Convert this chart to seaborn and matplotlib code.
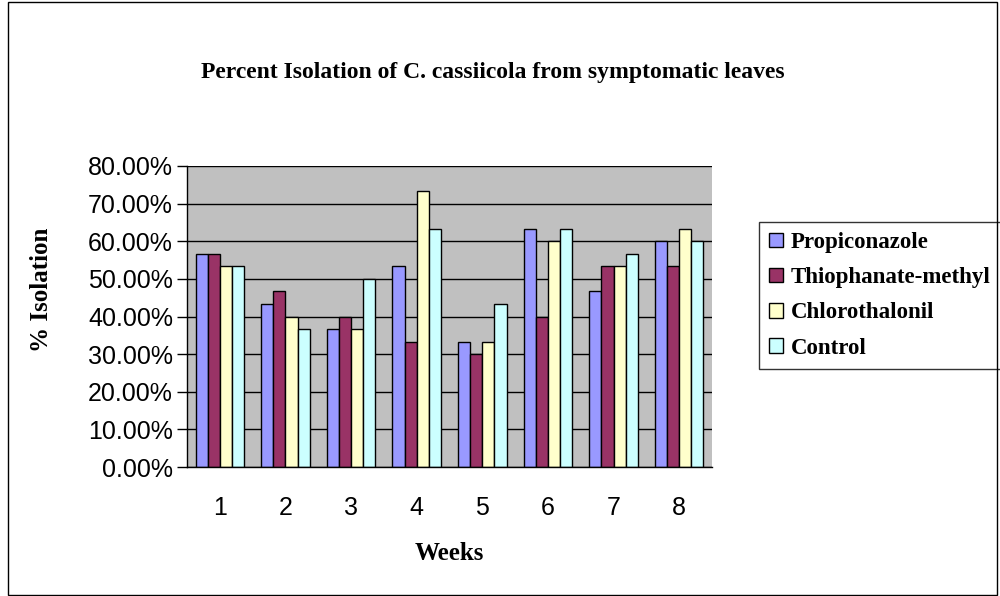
import numpy as np
import pandas as pd
import seaborn as sns
import matplotlib
import matplotlib.pyplot as plt
from matplotlib.patches import Rectangle

matplotlib.use('Agg')

weeks = ["1", "2", "3", "4", "5", "6", "7", "8"]
treatments = ["Propiconazole", "Thiophanate-methyl", "Chlorothalonil", "Control"]
propiconazole = [56.67, 43.33, 36.67, 53.33, 33.33, 63.33, 46.67, 60.00]
thiophanate = [56.67, 46.67, 40.00, 33.33, 30.00, 40.00, 53.33, 53.33]
chlorothalonil = [53.33, 40.00, 36.67, 73.33, 33.33, 60.00, 53.33, 63.33]
control = [53.33, 36.67, 50.00, 63.33, 43.33, 63.33, 56.67, 60.00]
colors = ["#9999FF", "#993366", "#FFFFCC", "#CCFFFF"]

df = pd.DataFrame({"week": weeks * 4,
                   "treatment": np.repeat(treatments, len(weeks)),
                   "isolation": propiconazole + thiophanate + chlorothalonil + control})

sns.set_style("white")
plt.rcParams.update({"text.color": "black", "axes.labelcolor": "black",
                     "xtick.color": "black", "ytick.color": "black"})
serif = ["Liberation Serif", "DejaVu Serif"]
sans = ["Liberation Sans", "DejaVu Sans"]

fig = plt.figure(figsize=(10, 5.96), dpi=100)
ax = fig.add_axes([0.187, 0.2164, 0.525, 0.5051])
ax.set_facecolor("#C0C0C0")

sns.barplot(data=df, x="week", y="isolation", hue="treatment", hue_order=treatments,
            palette=colors, width=0.74, edgecolor="black", linewidth=1,
            saturation=1, ax=ax, legend=True)

ax.set_ylim(0, 80)
ax.set_xlim(-0.5, 7.5)
ax.set_yticks(np.arange(0, 81, 10))
ax.set_yticklabels([f"{v:.2f}%" for v in np.arange(0, 81, 10)], fontsize=18, family=sans)
ax.set_xticks(range(8))
ax.set_xticklabels(weeks, fontsize=18, family=sans)
ax.set_xticks(np.arange(-0.5, 8, 1), minor=True)
ax.tick_params(axis="x", which="major", length=0, pad=21)
ax.tick_params(axis="x", which="minor", length=9, width=1, color="black", direction="out")
ax.tick_params(axis="y", which="major", length=7, width=1, color="black", direction="out",
               left=True, pad=3)
ax.yaxis.grid(True, color="black", linewidth=1)
ax.set_axisbelow(True)
for s in ["top", "right"]:
    ax.spines[s].set_visible(False)
for s in ["left", "bottom"]:
    ax.spines[s].set_color("black")
    ax.spines[s].set_linewidth(1)

ax.set_xlabel("Weeks", fontsize=18, fontweight="bold", family=serif)
ax.set_ylabel("% Isolation", fontsize=18, fontweight="bold", family=serif)
ax.xaxis.set_label_coords(0.5, -0.25)
ax.yaxis.set_label_coords(-0.255, 0.59)

fig.text(0.493, 0.879, "Percent Isolation of C. cassiicola from symptomatic leaves",
         ha="center", va="center", fontsize=17, fontweight="bold", family=serif)

handles, labels = ax.get_legend_handles_labels()
ax.legend(handles, labels, loc="upper left", bbox_to_anchor=(0.759, 0.628),
          bbox_transform=fig.transFigure, frameon=True, fancybox=False,
          edgecolor="black", prop={"family": serif, "weight": "bold", "size": 16.5},
          handlelength=0.6, handleheight=0.6, handletextpad=0.35, labelspacing=0.62,
          borderpad=0.45, borderaxespad=0)
ax.get_legend().get_frame().set_linewidth(1)

fig.patches.append(Rectangle((0.008, 0.002), 0.989, 0.994, transform=fig.transFigure,
                             fill=False, edgecolor="black", linewidth=1))

fig.savefig("out.png", dpi=100)
